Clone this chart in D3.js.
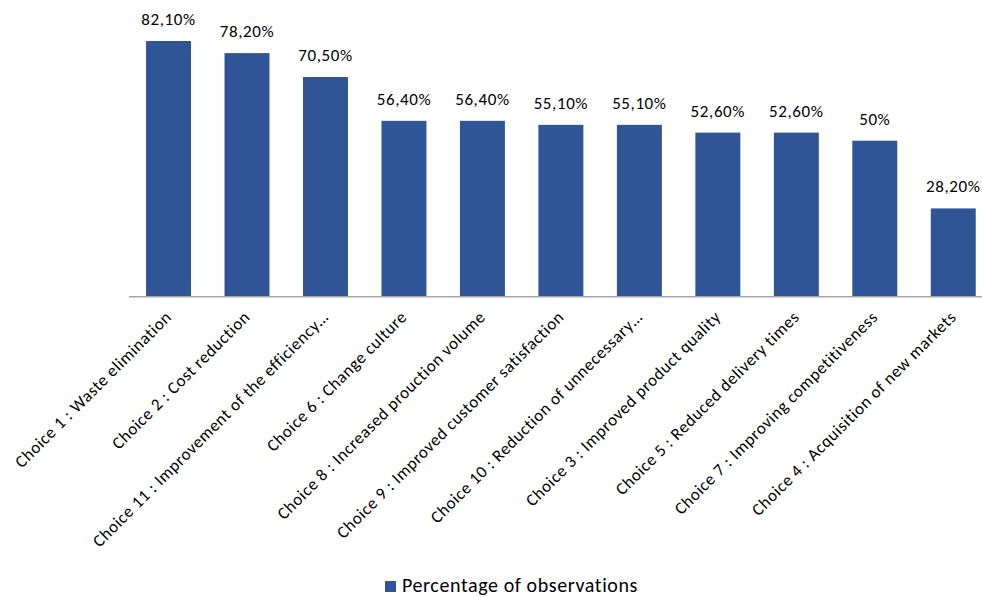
<!DOCTYPE html>
<html>
<head>
<meta charset="utf-8">
<script src="https://cdn.jsdelivr.net/npm/d3@7"></script>
<style>
  html, body { margin: 0; padding: 0; background: #ffffff; }
  svg { display: block; font-family: Carlito, Calibri, Lato, sans-serif; }
</style>
</head>
<body>
<svg id="chart" width="982" height="597"></svg>
<script>
// Survey answers, in the order they are shown (highest share first)
const categories = [
  "Choice 1 : Waste elimination",
  "Choice 2 : Cost reduction",
  "Choice 11 : Improvement of the efficiency…",
  "Choice 6 : Change culture",
  "Choice 8 : Increased prouction volume",
  "Choice 9 : Improved customer satisfaction",
  "Choice 10 : Reduction of unnecessary…",
  "Choice 3 : Improved product quality",
  "Choice 5 : Reduced delivery times",
  "Choice 7 : Improving competitiveness",
  "Choice 4 : Acquisition of new markets"
];
const percentages = [82.1, 78.2, 70.5, 56.4, 56.4, 55.1, 55.1, 52.6, 52.6, 50, 28.2];
const valueLabels = ["82,10%", "78,20%", "70,50%", "56,40%", "56,40%", "55,10%", "55,10%", "52,60%", "52,60%", "50%", "28,20%"];
const seriesName = "Percentage of observations";

const barColor = "#2f5597";
const svg = d3.select("#chart");

const x = d3.scaleBand()
  .domain(categories)
  .range([129.3, 992.5])
  .paddingInner(0.427)
  .paddingOuter(0.2135);

const y = d3.scaleLinear()
  .domain([0, 100])
  .range([296, -14.6]);

const rows = categories.map((c, i) => ({ cat: c, value: percentages[i], label: valueLabels[i] }));

// bars
svg.append("g")
  .selectAll("rect")
  .data(rows)
  .join("rect")
  .attr("x", d => x(d.cat))
  .attr("y", d => y(d.value))
  .attr("width", x.bandwidth())
  .attr("height", d => y(0) - y(d.value))
  .attr("fill", barColor);

// value labels above bars
svg.append("g")
  .selectAll("text")
  .data(rows)
  .join("text")
  .attr("x", d => x(d.cat) + x.bandwidth() / 2)
  .attr("y", d => y(d.value) - 16)
  .attr("text-anchor", "middle")
  .attr("font-size", 17)
  .attr("letter-spacing", 0.6)
  .attr("fill", "#000")
  .text(d => d.label);

// category axis
const xAxis = svg.append("g")
  .attr("transform", `translate(0,${y(0)})`)
  .call(d3.axisBottom(x).tickSize(0).tickPadding(0));
xAxis.select(".domain")
  .attr("d", `M129,0.75H982`)
  .attr("stroke", "#a6a6a6")
  .attr("stroke-width", 1.5);
xAxis.selectAll(".tick text")
  .attr("font-family", "Carlito, Calibri, Lato, sans-serif")
  .attr("font-size", 17)
  .attr("letter-spacing", 0.6)
  .attr("fill", "#000")
  .attr("text-anchor", "end")
  .attr("dy", 0)
  .attr("transform", "translate(4,22) rotate(-45)");

// legend
const legend = svg.append("g").attr("transform", "translate(385,581)");
legend.append("rect")
  .attr("x", 0).attr("y", 0)
  .attr("width", 11).attr("height", 11)
  .attr("fill", barColor);
legend.append("text")
  .attr("x", 17).attr("y", 11)
  .attr("font-size", 20)
  .attr("letter-spacing", 0.6)
  .attr("fill", "#000")
  .text(seriesName);
</script>
</body>
</html>
